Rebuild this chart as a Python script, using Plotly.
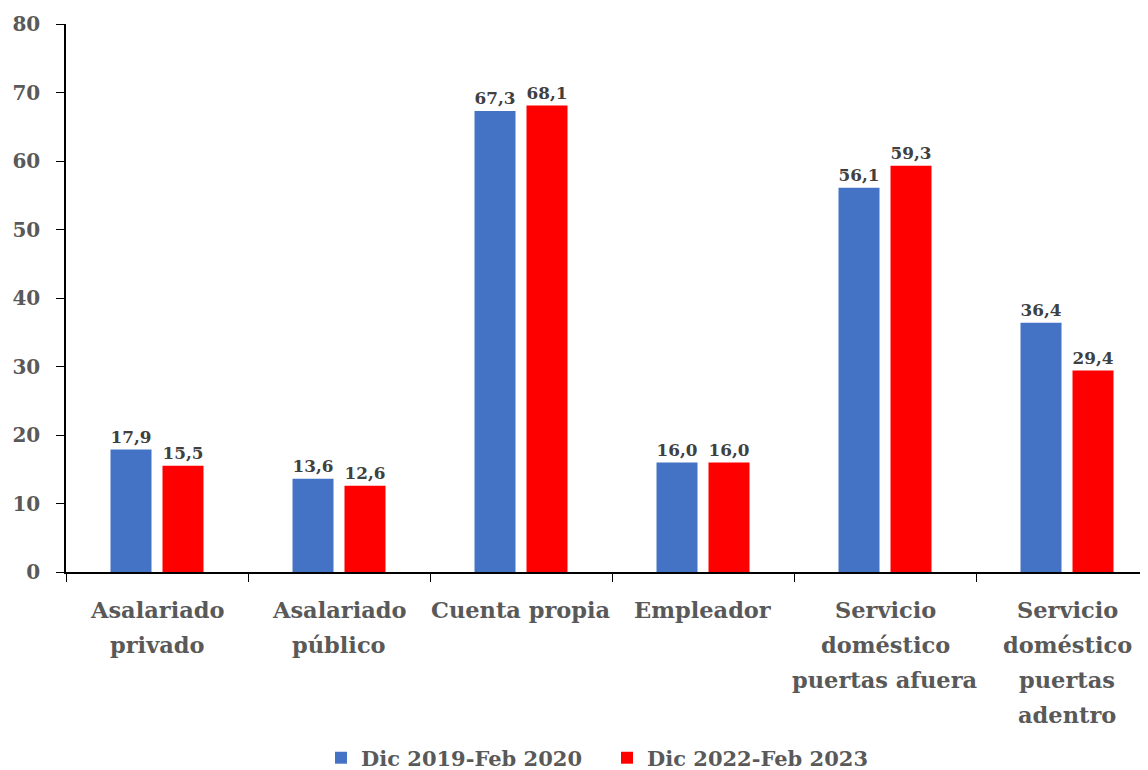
import plotly.graph_objects as go

categories = ["Asalariado<br>privado", "Asalariado<br>público", "Cuenta propia", "Empleador",
              "Servicio<br>doméstico<br>puertas afuera", "Servicio<br>doméstico<br>puertas<br>adentro"]
serie_2019 = [17.9, 13.6, 67.3, 16.0, 56.1, 36.4]
serie_2022 = [15.5, 12.6, 68.1, 16.0, 59.3, 29.4]
names = ["Dic 2019-Feb 2020", "Dic 2022-Feb 2023"]
y_ticks = [0, 10, 20, 30, 40, 50, 60, 70, 80]

FONT = "DejaVu Serif"
AXIS_COLOR = "#595959"
fig = go.Figure()
for vals, name, color in [(serie_2019, names[0], "#4472C4"), (serie_2022, names[1], "#FF0000")]:
    fig.add_trace(go.Bar(
        x=categories, y=vals, name="<b>" + name + "</b>", marker_color=color, marker_line_width=0,
        texttemplate="<b>%{y:.1f}</b>", textposition="outside", cliponaxis=False,
        textfont=dict(family=FONT, size=23, color="#404040"),
    ))

# category labels, one annotation per line to reproduce the wide line spacing
LINE_GAP = 35
annotations = []
for cat in categories:
    for i, line in enumerate(cat.split("<br>")):
        annotations.append(dict(
            x=cat, xref="x", y=0, yref="paper", yanchor="top", xanchor="center",
            yshift=-23 - LINE_GAP * i, showarrow=False, text="<b>" + line + "</b>",
            font=dict(family=FONT, size=22.5, color=AXIS_COLOR),
        ))

# page body adds an 8px offset; the figure is sized to fit the window
fig.update_layout(
    width=1140, height=762,
    margin=dict(l=58, r=0, t=16, b=198, autoexpand=False),
    plot_bgcolor="white", paper_bgcolor="white",
    separators=",.",
    barmode="group", bargap=0.4286, bargroupgap=0.2115,
    font=dict(family=FONT, size=20, color=AXIS_COLOR),
    legend=dict(orientation="h", x=0.5, xanchor="center", y=-0.3395, yanchor="middle",
                font=dict(family=FONT, size=21, color=AXIS_COLOR),
                traceorder="normal", entrywidth=241),
    showlegend=True,
    annotations=annotations,
)
fig.update_xaxes(
    range=[-0.5, 5.445], showline=True, linecolor="black", linewidth=1.5,
    ticks="outside", tickson="boundaries", ticklen=8, tickcolor="black",
    showticklabels=False, automargin=False,
)
fig.update_yaxes(
    range=[0, 80], tickvals=y_ticks, ticktext=["<b>" + str(v) + "</b>" for v in y_ticks],
    showline=True, linecolor="black", linewidth=1.5,
    ticks="outside", ticklen=8, tickcolor="black", showgrid=False, zeroline=False,
    tickfont=dict(family=FONT, size=20, color=AXIS_COLOR), ticklabelstandoff=12,
    automargin=False,
)
fig.write_html("out.html")
